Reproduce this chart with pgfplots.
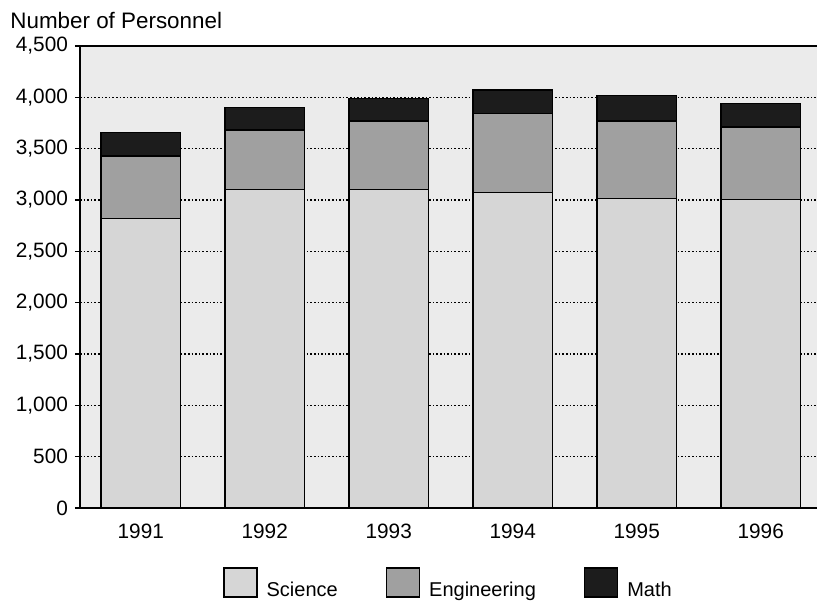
\documentclass[border=0pt]{standalone}
\usepackage{fontspec}
\setmainfont{Liberation Sans}
\usepackage{pgfplots}
\pgfplotsset{compat=1.18}
\definecolor{bgc}{HTML}{EBEBEB}
\definecolor{sci}{HTML}{D6D6D6}
\definecolor{eng}{HTML}{A0A0A0}
\definecolor{mat}{HTML}{1C1C1C}
\begin{document}
\begin{tikzpicture}
\begin{axis}[
  at={(0,0)}, anchor=south west,
  scale only axis, width=369.5pt, height=231pt,
  ybar stacked, bar width=0.64,
  xmin=-0.49, xmax=5.47, ymin=0, ymax=4500,
  xtick={0,1,2,3,4,5}, xticklabels={1991,1992,1993,1994,1995,1996},
  ytick={0,500,...,4500},
  axis x line*=box, axis y line*=left,
  axis line style={black, line width=0.8pt},
  x tick style={draw=none},
  y tick style={black, line width=0.6pt}, tick align=outside, major tick length=2.5pt,
  ymajorgrids, grid style={black, dash pattern=on 0.8pt off 1pt, line width=0.8pt},
  /pgf/number format/1000 sep={,},
  /pgf/number format/assume math mode=true,
  tick label style={font=\fontsize{10.4}{12}\selectfont},
  xticklabel style={yshift=-2pt},
  axis background/.style={fill=bgc},
  legend style={at={(0.5,-0.1277)}, anchor=north, draw=none, fill=none, inner sep=0pt,
    legend columns=3, font=\fontsize{10}{12}\selectfont,
    /tikz/every odd column/.append style={column sep=2.5pt},
    /tikz/every even column/.append style={column sep=22pt}},
  legend image code/.code={\draw[#1] (0pt,-3pt) rectangle (16.5pt,11.5pt);},
  clip=false,
]
\addplot[fill=sci, draw=black, line width=0.7pt] coordinates {(0,2820) (1,3100) (2,3100) (3,3075) (4,3015) (5,3005)};
\addplot[fill=eng, draw=black, line width=0.7pt] coordinates {(0,610) (1,580) (2,670) (3,765) (4,755) (5,705)};
\addplot[fill=mat, draw=black, line width=0.7pt] coordinates {(0,225) (1,220) (2,220) (3,230) (4,245) (5,230)};
\legend{Science, Engineering, Math}
\node[anchor=base west, inner sep=0pt, xshift=-35pt, yshift=9pt, font=\fontsize{11.2}{13}\selectfont] at (rel axis cs:0,1) {Number of Personnel};
\end{axis}
\pgfresetboundingbox
\path (-40pt,-50.5pt) rectangle (368.5pt,254pt);
\end{tikzpicture}
\end{document}
